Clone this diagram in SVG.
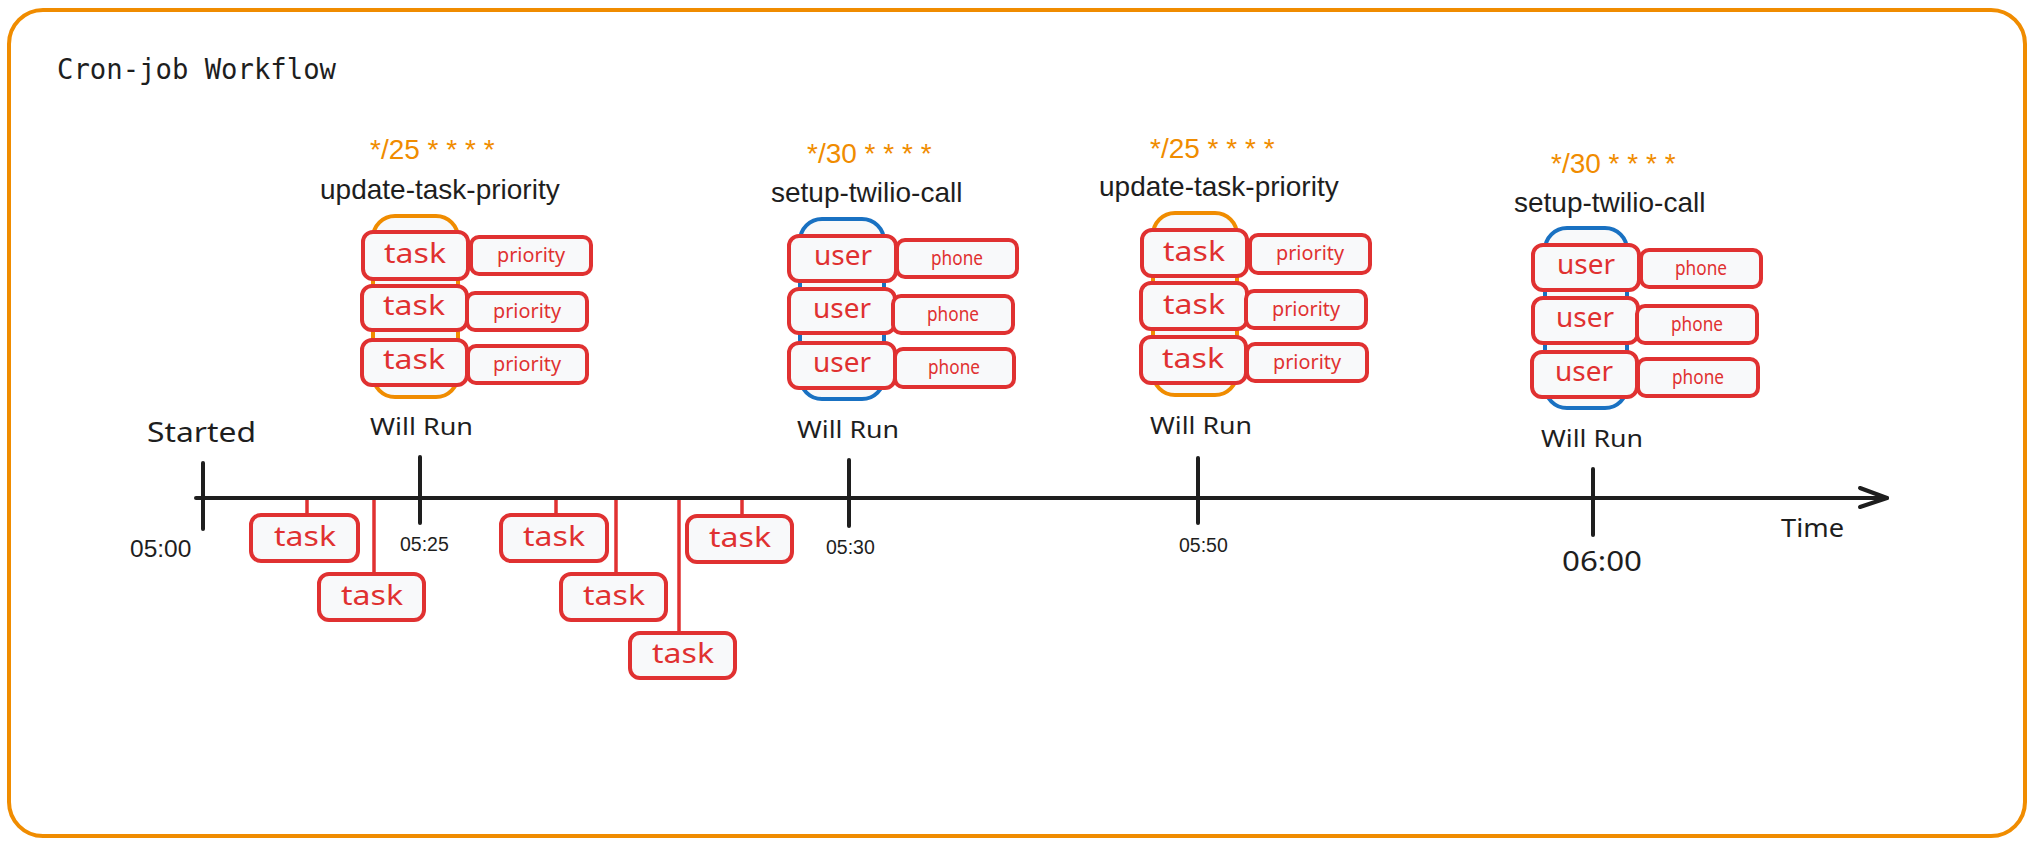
<svg xmlns="http://www.w3.org/2000/svg" width="2034" height="844" viewBox="0 0 2034 844">
<defs>
<style>
.frame{fill:#ffffff;stroke:#f08c00;stroke-width:4}
.cap-o{fill:#f8f9fa;stroke:#f08c00;stroke-width:4}
.cap-b{fill:#f8f9fa;stroke:#1971c2;stroke-width:4}
.box{fill:#f8f9fa;stroke:#e03131;stroke-width:4}
.lbl{font-family:"Noto Sans","Liberation Sans",sans-serif;fill:#e03131;text-anchor:middle}
.big{font-size:28px}
.pr{font-size:20px}
.ph{font-size:19px}
.cron{font-family:"Liberation Sans",Arial,sans-serif;font-size:28px;fill:#f08c00}
.job{font-family:"Liberation Sans",Arial,sans-serif;font-size:28px;fill:#1e1e1e}
.time{font-family:"Liberation Sans",Arial,sans-serif;fill:#1e1e1e}
.note{font-family:"Noto Sans","Liberation Sans",sans-serif;fill:#1e1e1e}
.title{font-family:"DejaVu Sans Mono","Liberation Mono",monospace;font-size:28px;fill:#1e1e1e}
.axis{stroke:#1e1e1e;stroke-width:4;stroke-linecap:round;fill:none}
.link{stroke:#e03131;stroke-width:3.5;fill:none}
</style>
<marker id="arrow" markerUnits="userSpaceOnUse" markerWidth="40" markerHeight="30" viewBox="-32 -15 40 30" refX="0" refY="0" orient="auto">
<path d="M-27,-10 L0,0 L-27,9" fill="none" stroke="#1e1e1e" stroke-width="4" stroke-linecap="round" stroke-linejoin="round"/>
</marker>
</defs>
<rect width="2034" height="844" fill="#ffffff"/>
<g id="frame">
<rect class="frame" x="9" y="10" width="2016" height="826" rx="34"/>
<text class="title" x="57" y="79" textLength="279" lengthAdjust="spacingAndGlyphs">Cron-job Workflow</text>
</g>

<g id="connectors">
<line class="link" x1="307" y1="498" x2="307" y2="515"/>
<line class="link" x1="374" y1="498" x2="374" y2="574"/>
<line class="link" x1="556" y1="498" x2="556" y2="515"/>
<line class="link" x1="616" y1="498" x2="616" y2="574"/>
<line class="link" x1="679" y1="498" x2="679" y2="633"/>
<line class="link" x1="742" y1="498" x2="742" y2="516"/>
<line class="axis" x1="196" y1="498" x2="1887" y2="498" marker-end="url(#arrow)"/>
<line class="axis" x1="203" y1="463" x2="203" y2="529"/>
<line class="axis" x1="420" y1="457" x2="420" y2="523"/>
<line class="axis" x1="849" y1="460" x2="849" y2="526"/>
<line class="axis" x1="1198" y1="458" x2="1198" y2="523"/>
<line class="axis" x1="1593" y1="469" x2="1593" y2="535"/>
</g>

<g id="timeline-labels">
<text class="note" x="147" y="442" font-size="28" textLength="109" lengthAdjust="spacingAndGlyphs">Started</text>
<text class="time" x="130" y="557" font-size="24.5">05:00</text>
<text class="time" x="400" y="551" font-size="19.5">05:25</text>
<text class="time" x="826" y="554" font-size="19.5">05:30</text>
<text class="time" x="1179" y="552" font-size="19.5">05:50</text>
<text class="note" x="1562" y="571" font-size="28" textLength="80" lengthAdjust="spacingAndGlyphs">06:00</text>
<text class="note" x="1781" y="537" font-size="25" textLength="63" lengthAdjust="spacingAndGlyphs">Time</text>
</g>

<g id="job-1">
<text class="cron" x="370" y="159">*/25 * * * *</text>
<text class="job" x="320" y="199">update-task-priority</text>
<rect class="cap-o" x="373" y="216" width="85" height="181" rx="22"/>
<rect class="box" x="363" y="232" width="105" height="47" rx="10"/>
<text class="lbl big" x="415" y="263" textLength="62" lengthAdjust="spacingAndGlyphs">task</text>
<rect class="box" x="362" y="286" width="105" height="44" rx="10"/>
<text class="lbl big" x="414" y="315" textLength="62" lengthAdjust="spacingAndGlyphs">task</text>
<rect class="box" x="362" y="340" width="105" height="45" rx="10"/>
<text class="lbl big" x="414" y="369" textLength="62" lengthAdjust="spacingAndGlyphs">task</text>
<rect class="box" x="471" y="237" width="120" height="37" rx="8"/>
<text class="lbl pr" x="531" y="262" textLength="68" lengthAdjust="spacingAndGlyphs">priority</text>
<rect class="box" x="467" y="293" width="120" height="37" rx="8"/>
<text class="lbl pr" x="527" y="318" textLength="68" lengthAdjust="spacingAndGlyphs">priority</text>
<rect class="box" x="468" y="346" width="119" height="37" rx="8"/>
<text class="lbl pr" x="527" y="371" textLength="68" lengthAdjust="spacingAndGlyphs">priority</text>
<text class="note" x="370" y="435" font-size="24" textLength="103" lengthAdjust="spacingAndGlyphs">Will Run</text>
</g>

<g id="job-2">
<text class="cron" x="807" y="163">*/30 * * * *</text>
<text class="job" x="771" y="202">setup-twilio-call</text>
<rect class="cap-b" x="800" y="219" width="84" height="180" rx="22"/>
<rect class="box" x="789" y="236" width="107" height="45" rx="10"/>
<text class="lbl big" x="843" y="265" textLength="58" lengthAdjust="spacingAndGlyphs">user</text>
<rect class="box" x="789" y="289" width="106" height="44" rx="10"/>
<text class="lbl big" x="842" y="318" textLength="58" lengthAdjust="spacingAndGlyphs">user</text>
<rect class="box" x="789" y="343" width="106" height="45" rx="10"/>
<text class="lbl big" x="842" y="372" textLength="58" lengthAdjust="spacingAndGlyphs">user</text>
<rect class="box" x="897" y="240" width="120" height="37" rx="8"/>
<text class="lbl ph" x="957" y="265" textLength="52" lengthAdjust="spacingAndGlyphs">phone</text>
<rect class="box" x="893" y="296" width="120" height="37" rx="8"/>
<text class="lbl ph" x="953" y="321" textLength="52" lengthAdjust="spacingAndGlyphs">phone</text>
<rect class="box" x="895" y="349" width="119" height="38" rx="8"/>
<text class="lbl ph" x="954" y="374" textLength="52" lengthAdjust="spacingAndGlyphs">phone</text>
<text class="note" x="797" y="438" font-size="24" textLength="102" lengthAdjust="spacingAndGlyphs">Will Run</text>
</g>

<g id="job-3">
<text class="cron" x="1150" y="158">*/25 * * * *</text>
<text class="job" x="1099" y="196">update-task-priority</text>
<rect class="cap-o" x="1153" y="213" width="84" height="182" rx="22"/>
<rect class="box" x="1142" y="230" width="105" height="46" rx="10"/>
<text class="lbl big" x="1194" y="261" textLength="62" lengthAdjust="spacingAndGlyphs">task</text>
<rect class="box" x="1141" y="283" width="106" height="46" rx="10"/>
<text class="lbl big" x="1194" y="314" textLength="62" lengthAdjust="spacingAndGlyphs">task</text>
<rect class="box" x="1141" y="337" width="105" height="46" rx="10"/>
<text class="lbl big" x="1193" y="368" textLength="62" lengthAdjust="spacingAndGlyphs">task</text>
<rect class="box" x="1250" y="235" width="120" height="38" rx="8"/>
<text class="lbl pr" x="1310" y="260" textLength="68" lengthAdjust="spacingAndGlyphs">priority</text>
<rect class="box" x="1246" y="291" width="120" height="37" rx="8"/>
<text class="lbl pr" x="1306" y="316" textLength="68" lengthAdjust="spacingAndGlyphs">priority</text>
<rect class="box" x="1247" y="344" width="120" height="37" rx="8"/>
<text class="lbl pr" x="1307" y="369" textLength="68" lengthAdjust="spacingAndGlyphs">priority</text>
<text class="note" x="1150" y="434" font-size="24" textLength="102" lengthAdjust="spacingAndGlyphs">Will Run</text>
</g>

<g id="job-4">
<text class="cron" x="1551" y="173">*/30 * * * *</text>
<text class="job" x="1514" y="212">setup-twilio-call</text>
<rect class="cap-b" x="1545" y="228" width="82" height="180" rx="22"/>
<rect class="box" x="1533" y="245" width="106" height="45" rx="10"/>
<text class="lbl big" x="1586" y="274" textLength="58" lengthAdjust="spacingAndGlyphs">user</text>
<rect class="box" x="1533" y="298" width="105" height="45" rx="10"/>
<text class="lbl big" x="1585" y="327" textLength="58" lengthAdjust="spacingAndGlyphs">user</text>
<rect class="box" x="1532" y="352" width="105" height="45" rx="10"/>
<text class="lbl big" x="1584" y="381" textLength="58" lengthAdjust="spacingAndGlyphs">user</text>
<rect class="box" x="1641" y="250" width="120" height="37" rx="8"/>
<text class="lbl ph" x="1701" y="275" textLength="52" lengthAdjust="spacingAndGlyphs">phone</text>
<rect class="box" x="1637" y="306" width="120" height="37" rx="8"/>
<text class="lbl ph" x="1697" y="331" textLength="52" lengthAdjust="spacingAndGlyphs">phone</text>
<rect class="box" x="1638" y="359" width="120" height="37" rx="8"/>
<text class="lbl ph" x="1698" y="384" textLength="52" lengthAdjust="spacingAndGlyphs">phone</text>
<text class="note" x="1541" y="447" font-size="24" textLength="102" lengthAdjust="spacingAndGlyphs">Will Run</text>
</g>

<g id="run-task-1">
<rect class="box" x="251" y="515" width="107" height="46" rx="10"/>
<text class="lbl big" x="305" y="546" textLength="62" lengthAdjust="spacingAndGlyphs">task</text>
</g>
<g id="run-task-2">
<rect class="box" x="319" y="574" width="105" height="46" rx="10"/>
<text class="lbl big" x="372" y="605" textLength="62" lengthAdjust="spacingAndGlyphs">task</text>
</g>
<g id="run-task-3">
<rect class="box" x="501" y="515" width="106" height="46" rx="10"/>
<text class="lbl big" x="554" y="546" textLength="62" lengthAdjust="spacingAndGlyphs">task</text>
</g>
<g id="run-task-4">
<rect class="box" x="561" y="574" width="105" height="46" rx="10"/>
<text class="lbl big" x="614" y="605" textLength="62" lengthAdjust="spacingAndGlyphs">task</text>
</g>
<g id="run-task-5">
<rect class="box" x="630" y="633" width="105" height="45" rx="10"/>
<text class="lbl big" x="683" y="663" textLength="62" lengthAdjust="spacingAndGlyphs">task</text>
</g>
<g id="run-task-6">
<rect class="box" x="687" y="516" width="105" height="46" rx="10"/>
<text class="lbl big" x="740" y="547" textLength="62" lengthAdjust="spacingAndGlyphs">task</text>
</g>
</svg>
